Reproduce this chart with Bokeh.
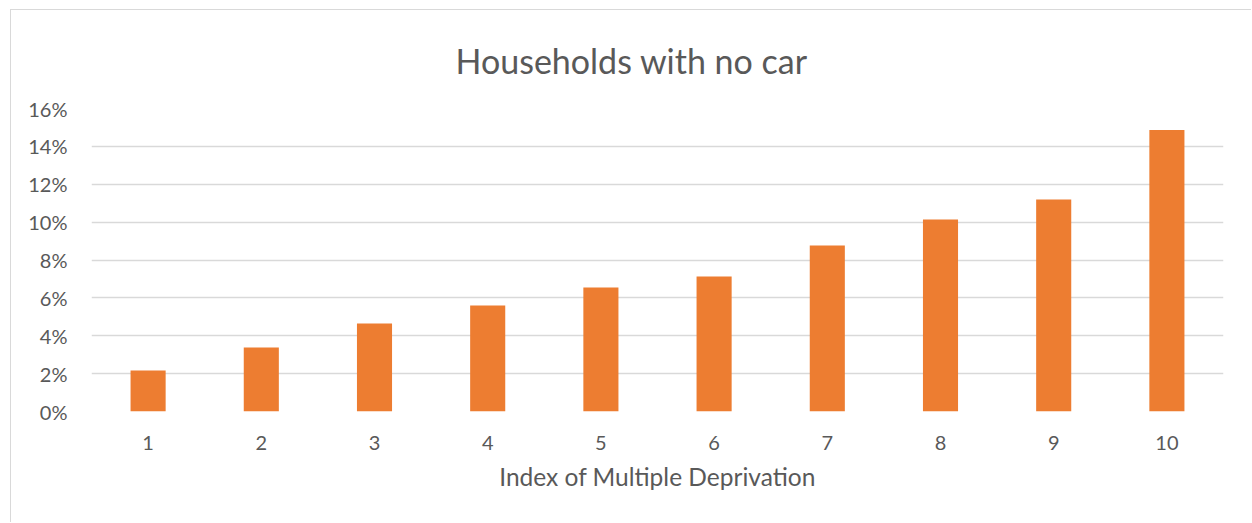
from bokeh.plotting import figure
from bokeh.models import FactorRange, Range1d, FixedTicker, NumeralTickFormatter, Title
from bokeh.embed import file_html
from bokeh.resources import INLINE

categories = ["1", "2", "3", "4", "5", "6", "7", "8", "9", "10"]
no_car_share = [0.0216, 0.0338, 0.0465, 0.0560, 0.0655, 0.0713, 0.0876, 0.1014, 0.1119, 0.1487]
y_ticks = [0.0, 0.02, 0.04, 0.06, 0.08, 0.10, 0.12, 0.14, 0.16]
title_text = "Households with no car"
x_title = "Index of Multiple Deprivation"

TEXT = "#595959"
GRID = "#d9d9d9"
FONT = "Lato"

p = figure(
    width=1241, height=513,
    x_range=FactorRange(factors=categories, range_padding=0),
    y_range=Range1d(0, 0.16),
    output_backend="svg", toolbar_location=None,
    min_border_left=80, min_border_right=29, min_border_top=98, min_border_bottom=112,
)
p.styles = {"border-left": f"1.5px solid {GRID}", "border-top": f"1.5px solid {GRID}",
            "margin-left": "9.5px", "margin-top": "8.5px"}

p.vbar(x=categories, top=no_car_share, width=0.31, color="#ED7D31", line_color=None)

p.title = Title(text=title_text, align="left", offset=364, standoff=52,
                vertical_align="top",
                text_font=FONT, text_font_size="34px", text_font_style="normal",
                text_color=TEXT)

p.outline_line_color = None
p.background_fill_color = "white"
p.border_fill_color = "white"

p.xgrid.grid_line_color = None
p.ygrid.grid_line_color = GRID
p.ygrid.grid_line_width = 1.5
p.ygrid.ticker = FixedTicker(ticks=y_ticks)

p.yaxis.ticker = FixedTicker(ticks=y_ticks)
p.yaxis.formatter = NumeralTickFormatter(format="0%")
p.yaxis.axis_line_color = None
p.yaxis.major_tick_line_color = None
p.yaxis.minor_tick_line_color = None
p.yaxis.major_label_text_font = FONT
p.yaxis.major_label_text_font_size = "20px"
p.yaxis.major_label_text_color = TEXT
p.yaxis.major_label_standoff = 18

p.xaxis.axis_line_color = None
p.xaxis.major_tick_line_color = None
p.xaxis.minor_tick_line_color = None
p.xaxis.major_label_text_font = FONT
p.xaxis.major_label_text_font_size = "20px"
p.xaxis.major_label_text_color = TEXT
p.xaxis.major_label_standoff = 18
p.xaxis.axis_label = x_title
p.xaxis.axis_label_text_font = FONT
p.xaxis.axis_label_text_font_size = "24.5px"
p.xaxis.axis_label_text_font_style = "normal"
p.xaxis.axis_label_text_color = TEXT
p.xaxis.axis_label_standoff = 9

open("out.html", "w").write(file_html(p, INLINE))
